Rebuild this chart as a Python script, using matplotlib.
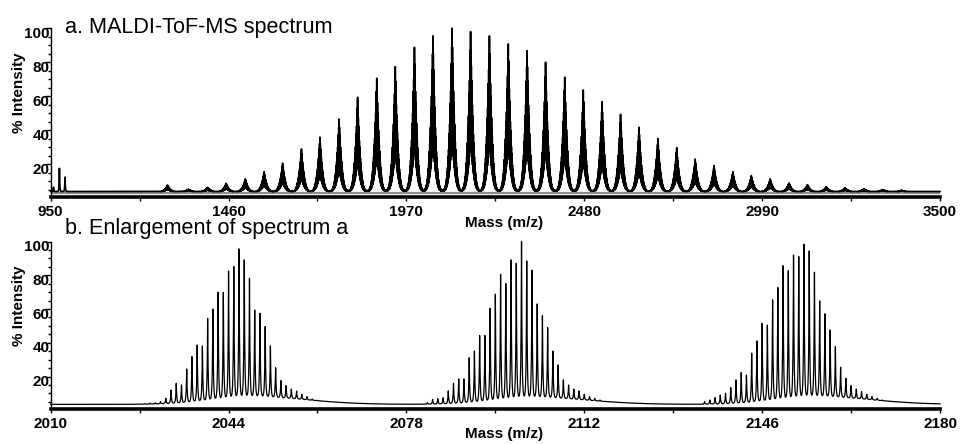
import numpy as np
import matplotlib
matplotlib.use("Agg")
import matplotlib.pyplot as plt
from matplotlib.ticker import FixedLocator
from matplotlib.transforms import ScaledTranslation

plt.rcParams["font.family"] = ["Liberation Sans", "DejaVu Sans"]

# ---------------- (a) full MALDI-ToF-MS spectrum ----------------
# oligomer peak apexes: m/z and % intensity
full_peak_mz = [1285, 1345, 1400, 1453, 1508, 1562, 1615, 1669, 1722, 1777,
                1830, 1885, 1938, 1993, 2046, 2101, 2154, 2208, 2262, 2316,
                2369, 2424, 2477, 2531, 2584, 2637, 2691, 2745, 2798, 2852,
                2906, 2959, 3013, 3067, 3120, 3174, 3228, 3282, 3336, 3390]
full_peak_int = [7.8, 5.3, 6.5, 8.8, 11.4, 15.6, 20.6, 29.0, 35.9, 46.6,
                 59.4, 70.6, 77.4, 88.8, 95.5, 100.0, 98.0, 95.5, 90.8, 86.8,
                 80.0, 71.2, 63.7, 56.8, 49.4, 41.8, 35.1, 29.8, 23.1, 19.2,
                 15.6, 13.3, 11.4, 9.0, 8.0, 6.8, 6.2, 5.5, 5.1, 4.7]
# matrix / low-mass ions
low_mass_mz = [958, 975, 991]
low_mass_int = [6.5, 17.6, 12.4]
full_baseline = 4.0
full_ref_line = 3.3

full_xticks = [950, 1460, 1970, 2480, 2990, 3500]
full_xminor = [1205, 1715, 2225, 2735, 3245]

# ---------------- (b) enlargement: isotope clusters ----------------
cluster_mz = [2046, 2100, 2154]
isotope_offset = list(range(-19, 18))
cluster1_int = [3.8, 4.0, 4.3, 4.5, 5.1, 7.1, 12.0, 16.0, 15.0, 24.5,
                31.8, 38.7, 38.1, 54.5, 60.0, 69.9, 69.9, 82.5, 85.1, 95.6,
                89.1, 78.2, 59.4, 57.5, 49.6, 38.1, 25.2, 17.6, 14.6, 12.6,
                11.4, 9.5, 8.1, 6.7, 5.9, 5.3, 4.8]
cluster2_int = [3.5, 4.5, 6.5, 6.9, 7.4, 11.5, 16.0, 18.6, 18.6, 31.1,
                35.1, 44.3, 44.3, 60.4, 68.8, 80.6, 75.1, 89.1, 87.1, 100.0,
                88.5, 83.1, 63.0, 56.1, 49.0, 35.1, 26.9, 18.0, 15.0, 12.6,
                11.5, 9.5, 8.1, 7.1, 6.1, 5.1, 4.6]
cluster3_int = [5.1, 6.1, 7.5, 9.1, 10.1, 13.4, 18.0, 22.3, 20.9, 33.8,
                41.1, 51.5, 50.5, 65.4, 72.7, 85.7, 82.7, 92.0, 91.0, 98.4,
                94.4, 81.8, 64.8, 57.2, 47.6, 37.7, 25.5, 19.0, 14.6, 12.6,
                11.0, 9.5, 8.1, 7.1, 6.1, 5.5, 5.0]
# unresolved background under each cluster (% above baseline)
cluster_hump = [4.5, 4.0, 4.5]
zoom_baseline = 3.5

zoom_xticks = [2010, 2044, 2078, 2112, 2146, 2180]
zoom_xminor = [2027, 2061, 2095, 2129, 2163]

ytick_major = [20, 40, 60, 80, 100]
ytick_minor = list(range(5, 100, 5))


def full_trace(mz):
    """Oligomer envelopes with their unresolved 1-Da isotope fine structure."""
    y = np.full_like(mz, full_baseline)
    for c, h in zip(full_peak_mz, full_peak_int):
        d = mz - c
        ad = np.abs(d)
        env = 0.62 * np.exp(-ad / 5.0) + 0.38 * np.exp(-0.5 * (d / 8.0) ** 2)
        fine = 0.3 + 0.7 * np.exp(-0.5 * ((d - np.round(d)) / 0.2) ** 2)
        y += (h - full_baseline) * env * fine
    for c, h in zip(low_mass_mz, low_mass_int):
        y += (h - full_baseline) * np.exp(-np.abs(mz - c) / 0.9)
    return y


def hump(mz, c, amp):
    d = mz - (c + 3)
    w = np.where(d < 0, 8.0, 10.0)
    return amp * np.exp(-0.5 * (d / w) ** 2)


def background(mz):
    bg = np.full_like(mz, zoom_baseline, dtype=float)
    for c, a in zip(cluster_mz, cluster_hump):
        bg += hump(mz, c, a)
    return bg


def zoom_trace(mz):
    y = background(mz)
    for c, ints in zip(cluster_mz, [cluster1_int, cluster2_int, cluster3_int]):
        m = c + np.array(isotope_offset, dtype=float)
        amp = np.clip(np.array(ints) - background(m), 0, None)
        for mk, ak in zip(m, amp):
            y += ak * np.exp(-np.abs(mz - mk) / 0.1)
    return y


W, H = 963.0, 444.0
fig = plt.figure(figsize=(W / 100, H / 100), dpi=100)
x0, x1 = 50.7, 940.0
ax1 = fig.add_axes([x0 / W, 1 - 196.7 / H, (x1 - x0) / W, (196.7 - 28.3) / H])
ax2 = fig.add_axes([x0 / W, 1 - 409.0 / H, (x1 - x0) / W, (409.0 - 241.5) / H])

mz_full = np.arange(950, 3500.001, 0.05)
ax1.plot(mz_full, full_trace(mz_full), color="black", lw=1.25, clip_on=False)
ax1.axhline(full_ref_line, color="#8c8c8c", lw=1.6, zorder=1)
ax1.set_xlim(950, 3500)
ax1.set_ylim(0.94, 100)

mz_zoom = np.arange(2010, 2180.001, 0.02)
ax2.plot(mz_zoom, zoom_trace(mz_zoom), color="black", lw=0.9, clip_on=False)
ax2.set_xlim(2010, 2180)
ax2.set_ylim(0.77, 100)

for ax, xt, xm in [(ax1, full_xticks, full_xminor), (ax2, zoom_xticks, zoom_xminor)]:
    for s in ("top", "right"):
        ax.spines[s].set_visible(False)
    ax.spines["bottom"].set_linewidth(2.6)
    ax.spines["left"].set_linewidth(1.0)
    ax.xaxis.set_major_locator(FixedLocator(xt))
    ax.xaxis.set_minor_locator(FixedLocator(xm))
    ax.yaxis.set_major_locator(FixedLocator(ytick_major))
    ax.yaxis.set_minor_locator(FixedLocator(ytick_minor))
    ax.set_xticklabels([str(v) for v in xt], fontsize=11, fontweight="bold")
    ax.set_yticklabels([str(v) for v in ytick_major], fontsize=11, fontweight="bold")
    ax.tick_params(axis="x", which="both", direction="out", length=3, width=1, pad=3)
    ax.tick_params(axis="y", which="major", direction="out", length=4, width=1, pad=-3)
    ax.tick_params(axis="y", which="minor", direction="out", length=2.5, width=1)
    off = ScaledTranslation(0, -4 / 100, fig.dpi_scale_trans)
    for lab in ax.get_yticklabels():
        lab.set_transform(lab.get_transform() + off)
    ax.set_ylabel("% Intensity", fontsize=11, fontweight="bold", labelpad=0)
    ax.yaxis.set_label_coords(-0.028, 0.615)
    ax.set_xlabel("Mass (m/z)", fontsize=11, fontweight="bold")

ax1.xaxis.set_label_coords((504 - x0) / (x1 - x0), -0.115)
ax2.xaxis.set_label_coords((504 - x0) / (x1 - x0), -0.105)

fig.text(65 / W, 1 - 32.7 / H, "a. MALDI-ToF-MS spectrum", fontsize=15.6,
         va="baseline", ha="left")
fig.text(65 / W, 1 - 234 / H, "b. Enlargement of spectrum a", fontsize=15.6,
         va="baseline", ha="left")

fig.savefig("out.png", dpi=100)
